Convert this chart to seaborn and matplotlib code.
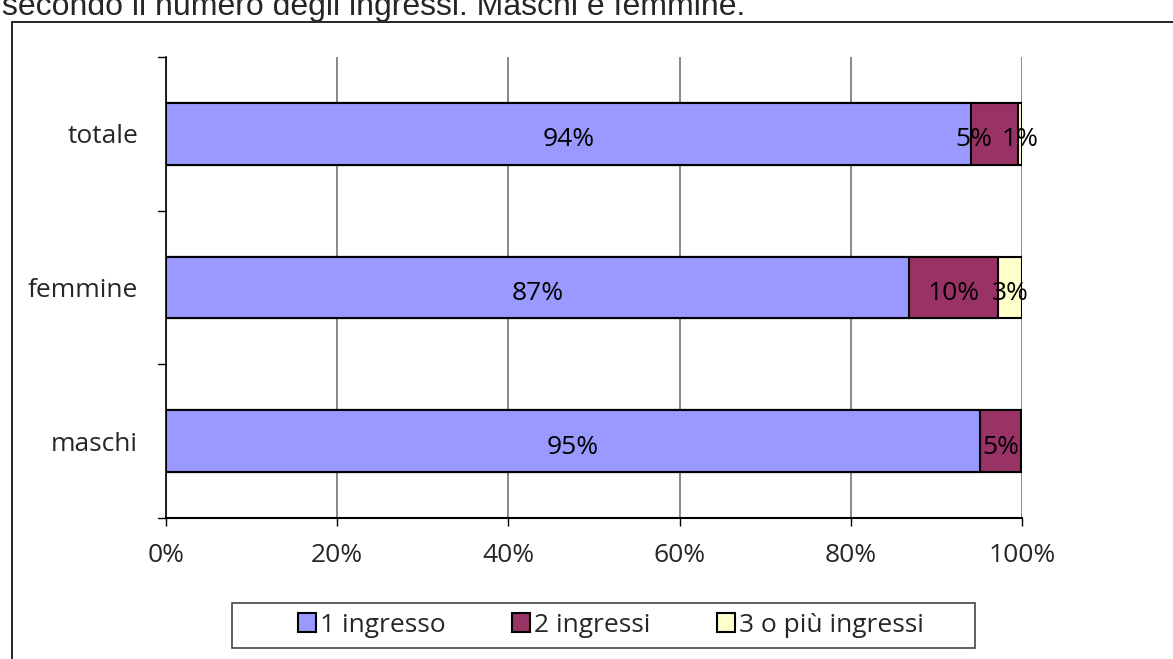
import matplotlib

matplotlib.use("Agg")
import matplotlib.pyplot as plt
import numpy as np
import pandas as pd
import seaborn as sns
from matplotlib.patches import Rectangle
from matplotlib.ticker import PercentFormatter

# --- data ---
categories = ["totale", "femmine", "maschi"]
series_names = ["1 ingresso", "2 ingressi", "3 o più ingressi"]
uno = [94.1, 86.8, 95.1]
due = [5.4, 10.4, 4.8]
tre = [0.5, 2.8, 0.1]
labels_uno = ["94%", "87%", "95%"]
labels_due = ["5%", "10%", "5%"]
labels_tre = ["1%", "3%", ""]

COLORS = ["#9999FF", "#993366", "#FFFFCC"]
FONT = ["Open Sans", "DejaVu Sans"]
FS = 19

sns.set_theme(style="white")
plt.rcParams["font.family"] = FONT

fig = plt.figure(figsize=(11.73, 6.59), dpi=100)
W, H = 1173, 659

# outer chart frame and cut-off caption above it
fig.patches.append(Rectangle((12 / W, -0.01), 1.02, 1 - 22 / H + 0.01,
                             transform=fig.transFigure, fill=False,
                             edgecolor="#000000", lw=1.2))
fig.text(2 / W, 1 - 15 / H, "secondo il numero degli ingressi. Maschi e femmine.",
         fontsize=23, family="Liberation Sans", va="baseline", ha="left")

ax = fig.add_axes([166 / W, 1 - 518 / H, (1022 - 166) / W, (518 - 57) / H])

df = pd.DataFrame({"cat": categories, "s1": uno, "s2": due, "s3": tre})
df["c1"] = df["s1"]
df["c2"] = df["s1"] + df["s2"]
df["c3"] = df["c2"] + df["s3"]

# stacked bars: draw cumulative totals back to front
for col, color in zip(["c3", "c2", "c1"], COLORS[::-1]):
    sns.barplot(data=df, y="cat", x=col, orient="h", color=color,
                width=0.4, edgecolor="black", linewidth=1.5,
                saturation=1, ax=ax)

# segment labels; a label followed by a tiny segment is nudged left
for i, row in df.iterrows():
    segs = [(row["s1"], row["c1"], labels_uno[i]),
            (row["s2"], row["c2"], labels_due[i]),
            (row["s3"], row["c3"], labels_tre[i])]
    for k, (val, cum, lab) in enumerate(segs):
        if not lab:
            continue
        dx = 0
        if k < 2 and segs[k + 1][2] and val < 7:
            dx = -15
        ax.annotate(lab, (cum - val / 2, i + 0.04), xytext=(dx, 0),
                    textcoords="offset points", ha="center", va="center",
                    fontsize=FS, color="black")

ax.set_xlim(0, 100)
ax.set_ylim(2.5, -0.5)
ax.xaxis.set_major_formatter(PercentFormatter(decimals=0))
ax.set_xticks(np.arange(0, 101, 20))
ax.set_xlabel("")
ax.set_ylabel("")
ax.set_yticks([0, 1, 2])
ax.set_yticklabels(categories)
ax.tick_params(axis="y", length=0, pad=20, labelsize=FS)
ax.tick_params(axis="x", length=6, width=1, pad=12, labelsize=FS,
               direction="out", color="black", bottom=True)
# category separator ticks on the y axis
for yb in [-0.5, 0.5, 1.5, 2.5]:
    ax.plot([-0.009, 0], [yb, yb], color="black", lw=1, clip_on=False,
            transform=ax.get_yaxis_transform())

ax.grid(axis="x", color="#7f7f7f", lw=1.3)
ax.set_axisbelow(True)
for side in ["top", "right"]:
    ax.spines[side].set_visible(False)
ax.spines["left"].set_color("black")
ax.spines["bottom"].set_color("black")
ax.spines["left"].set_linewidth(1.2)
ax.spines["bottom"].set_linewidth(1.5)

# legend, with its box drawn separately for the wider side padding
fig.patches.append(Rectangle((232 / W, 1 - 648 / H), (975 - 232) / W, 45 / H,
                             transform=fig.transFigure, fill=False,
                             edgecolor="#444444", lw=1.2))
handles = [Rectangle((0, 0), 1, 1, facecolor=c, edgecolor="black", lw=1.5)
           for c in COLORS]
fig.legend(handles, series_names, loc="center",
           bbox_to_anchor=(611 / W, 1 - 625 / H),
           ncol=3, frameon=False, fontsize=FS,
           handlelength=0.7, handleheight=0.7, handletextpad=0.15,
           columnspacing=2.5, borderpad=0.3)

fig.savefig("out.png", dpi=100)
